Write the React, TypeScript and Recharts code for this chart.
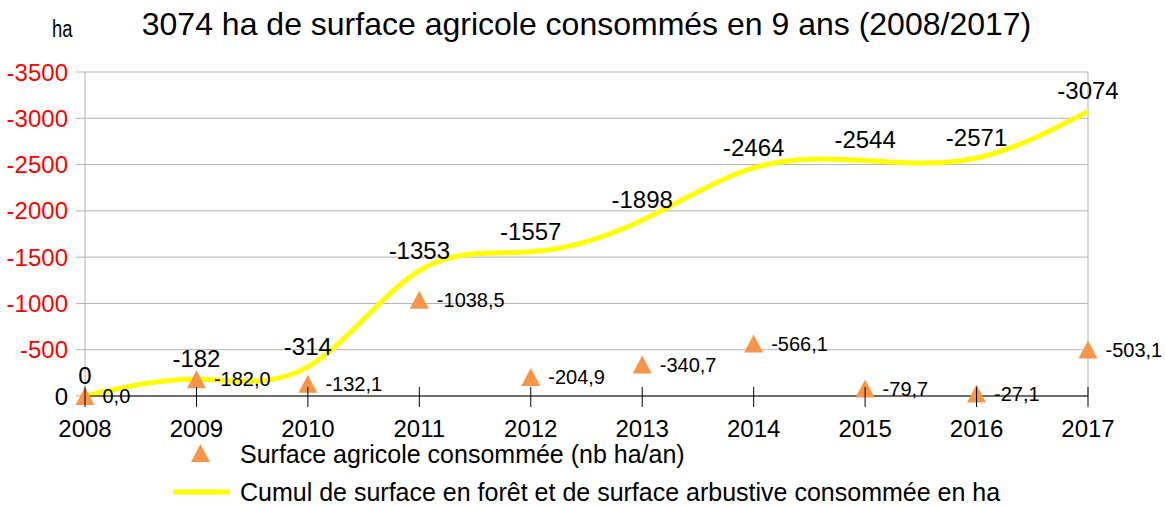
import React from "react";
import {
  ComposedChart,
  Line,
  Scatter,
  XAxis,
  YAxis,
  CartesianGrid,
  LabelList,
  ReferenceLine,
  Legend,
} from "recharts";

const years = [2008, 2009, 2010, 2011, 2012, 2013, 2014, 2015, 2016, 2017];
const cumul = [0, -182, -314, -1353, -1557, -1898, -2464, -2544, -2571, -3074];
const annual = [0, -182.0, -132.1, -1038.5, -204.9, -340.7, -566.1, -79.7, -27.1, -503.1];
const yTicks = [-3500, -3000, -2500, -2000, -1500, -1000, -500, 0];

const TITLE = "3074 ha de surface agricole consommés en 9 ans (2008/2017)";
const UNIT = "ha";
const SERIES_ANNUAL = "Surface agricole consommée (nb ha/an)";
const SERIES_CUMUL = "Cumul de surface en forêt et de surface arbustive consommée en ha";

const data = years.map((y, i) => ({ year: y, cumul: cumul[i], annual: annual[i] }));

const FONT = "'Liberation Sans', Arial, sans-serif";
const ORANGE = "#f7964a";
const YELLOW = "#ffff00";
const GRID = "#b3b3b3";

const fmtAnnual = (v: number) => v.toFixed(1).replace(".", ",");
const fmtCumul = (v: number) => String(v);

const Triangle = (props: any) => {
  const { cx, cy } = props;
  if (cx == null || cy == null) return null;
  const w = 19;
  const h = 18;
  return (
    <polygon
      points={`${cx - w / 2},${cy + h / 2} ${cx + w / 2},${cy + h / 2} ${cx},${cy - h / 2}`}
      fill={ORANGE}
    />
  );
};

const XTick = (props: any) => {
  const { x, y, payload } = props;
  return (
    <g>
      <line x1={x} x2={x} y1={y - 9} y2={y + 11} stroke="#000" strokeWidth={1} />
      <text x={x} y={y + 41} textAnchor="middle" fontSize={24} fill="#000" fontFamily={FONT}>
        {payload.value}
      </text>
    </g>
  );
};

const YTick = (props: any) => {
  const { x, y, payload } = props;
  return (
    <text
      x={x}
      y={y}
      dy="0.36em"
      textAnchor="end"
      fontSize={24}
      fill={payload.value === 0 ? "#000" : "#ff0000"}
      fontFamily={FONT}
    >
      {payload.value}
    </text>
  );
};

const LegendContent = () => (
  <div style={{ fontFamily: FONT, fontSize: 25, color: "#000", position: "relative", width: 1165, height: 70 }}>
    <svg width={40} height={24} style={{ position: "absolute", left: 181, top: 3 }}>
      <polygon points="10,21 29,21 19.5,3" fill={ORANGE} />
    </svg>
    <div style={{ position: "absolute", left: 240, top: 5, whiteSpace: "nowrap", lineHeight: "23px" }}>
      {SERIES_ANNUAL}
    </div>
    <svg width={60} height={10} style={{ position: "absolute", left: 172, top: 49 }}>
      <line x1={1} x2={58} y1={5} y2={5} stroke={YELLOW} strokeWidth={5} />
    </svg>
    <div style={{ position: "absolute", left: 240, top: 43, whiteSpace: "nowrap", lineHeight: "23px" }}>
      {SERIES_CUMUL}
    </div>
  </div>
);

export default function App() {
  return (
    <div style={{ position: "absolute", left: 0, top: 0, width: 1165, height: 506, background: "#fff", fontFamily: FONT }}>
      <div
        style={{
          position: "absolute",
          left: 0,
          width: 1165,
          top: 6,
          textAlign: "center",
          fontSize: 32,
          color: "#000",
          whiteSpace: "nowrap",
          paddingLeft: 8,
          boxSizing: "border-box",
        }}
      >
        {TITLE}
      </div>
      <div
        style={{
          position: "absolute",
          left: 52,
          top: 16,
          fontSize: 23,
          color: "#000",
          transform: "scaleX(0.8)",
          transformOrigin: "left top",
        }}
      >
        {UNIT}
      </div>
      <ComposedChart
        width={1165}
        height={506}
        data={data}
        margin={{ top: 72, right: 77, bottom: 60, left: 0 }}
      >
        <CartesianGrid vertical={false} stroke={GRID} strokeWidth={1} />
        <XAxis
          dataKey="year"
          type="number"
          domain={[2008, 2017]}
          ticks={years}
          interval={0}
          height={50}
          tickSize={0}
          tickMargin={0}
          tickLine={false}
          axisLine={{ stroke: "#000", strokeWidth: 1 }}
          tick={<XTick />}
          allowDecimals={false}
        />
        <YAxis
          type="number"
          reversed
          domain={[-3500, 0]}
          ticks={yTicks}
          interval={0}
          width={85}
          tickSize={9}
          tickMargin={8}
          tickLine={{ stroke: GRID }}
          axisLine={{ stroke: GRID }}
          tick={<YTick />}
        />
        <ReferenceLine x={2017} stroke={GRID} strokeWidth={1} ifOverflow="extendDomain" />
        <Line
          dataKey="cumul"
          type="natural"
          stroke={YELLOW}
          strokeWidth={5}
          dot={false}
          activeDot={false}
          isAnimationActive={false}
        >
          <LabelList
            dataKey="cumul"
            position="top"
            offset={12}
            fontSize={24}
            fill="#000"
            fontFamily={FONT}
            formatter={(v: any) => fmtCumul(Number(v))}
          />
        </Line>
        <Scatter dataKey="annual" shape={<Triangle />} isAnimationActive={false}>
          <LabelList
            dataKey="annual"
            position="right"
            offset={13}
            fontSize={20}
            fill="#000"
            fontFamily={FONT}
            formatter={(v: any) => fmtAnnual(Number(v))}
          />
        </Scatter>
        <Legend
          layout="horizontal"
          verticalAlign="middle"
          align="center"
          wrapperStyle={{ position: "absolute", left: 0, top: 438, width: 1165, height: 70 }}
          content={<LegendContent />}
        />
      </ComposedChart>
    </div>
  );
}
